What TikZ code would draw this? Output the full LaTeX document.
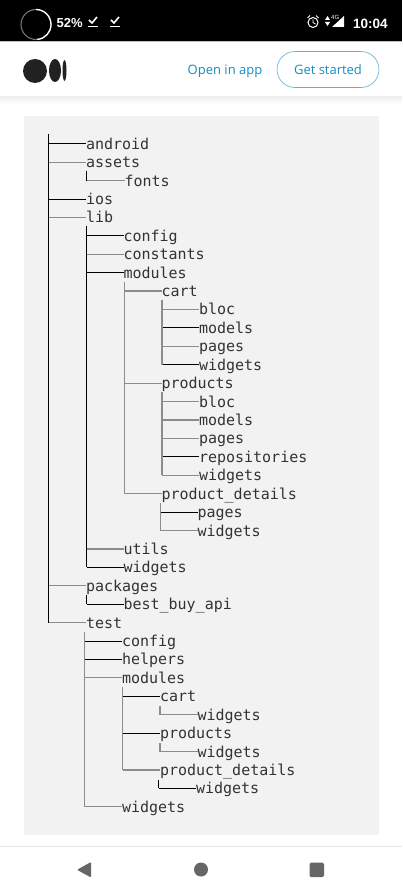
\documentclass[tikz,border=0pt]{standalone}
\usepackage{fontspec}
\setmainfont{Open Sans}
\newfontfamily\codefont{DejaVu Sans Mono}
\newfontfamily\barfont{Liberation Sans}
\definecolor{panel}{HTML}{F2F2F2}
\definecolor{linkblue}{HTML}{1A8BC0}
\definecolor{navgray}{HTML}{666666}
\tikzset{
 rowlabel/.style={anchor=west,inner sep=0pt,outer sep=0pt,text height=14pt,text depth=3pt,font=\codefont\fontsize{15}{15}\selectfont,text=black!80},
 darkline/.style={draw=black,line width=0.9pt},
 greyline/.style={draw=black!45,line width=1.2pt},
}
\newcommand\branch[3]{\draw[#1] (#2 |- #3.west) -- (#3.west);}
\begin{document}
\begin{tikzpicture}[x=1pt,y=-1pt]
\useasboundingbox (0,0) rectangle (402,893);
\fill[white] (0,0) rectangle (402,893);
% status bar
\fill[black] (0,0) rectangle (402,41.5);
\fill[black!25] (0,41.5) rectangle (402,42.5);
\draw[black!55,line width=1.1pt] (36,24.5) circle (15);
\draw[white,line width=1.3pt] (36,9.5) arc[start angle=-90,end angle=85,radius=15];
\node[anchor=west,inner sep=0,text=white,font=\barfont\bfseries\fontsize{13}{13}\selectfont] (pct) at (56.5,23.5) {52\%};
\draw[white,line width=1.3pt] (88,26.5) -- (98,26.5) (110,26.5) -- (120,26.5);
\draw[white,line width=1.6pt] (89,20) -- (92,23) -- (97,17) (111,20) -- (114,23) -- (119,17);
\draw[white,line width=1pt] (313,22.5) circle (5);
\draw[white,line width=0.8pt] (313,19.5) -- (313,22.5) -- (315.5,24);
\draw[white,line width=1pt] (307.5,18) -- (310,15.5) (318.5,18) -- (316,15.5);
\fill[white] (325,20) -- (327.5,16) -- (330,20) -- cycle (325,22) -- (327.5,26) -- (330,22) -- cycle;
\fill[white] (344,16) -- (344,27) -- (332,27) -- cycle;
\node[anchor=west,inner sep=0,text=white,font=\barfont\fontsize{6}{6}\selectfont] (lte) at (331,17.5) {4G};
\node[anchor=west,inner sep=0,text=white,font=\barfont\bfseries\fontsize{13.5}{13.5}\selectfont] (clock) at (353,23.5) {10:04};
% header
\shade[top color=black!6,bottom color=white] (0,97) rectangle (402,104);
\fill[black!87] (35,71) ellipse[x radius=12,y radius=12];
\fill[black!87] (55,70.5) ellipse[x radius=6,y radius=11.5];
\fill[black!87] (64.5,70.5) ellipse[x radius=2,y radius=10.5];
\node[anchor=center,inner sep=0,text=linkblue,font=\fontsize{13}{13}\selectfont] (open) at (225,71.5) {Open in app};
\node[draw=linkblue!70,rounded corners=18pt,minimum width=102pt,minimum height=36pt,inner sep=0,line width=0.6pt,text=linkblue,font=\fontsize{13}{13}\selectfont] (start) at (328,69.5) {Get started};
% panel
\fill[panel] (24,116) rectangle (379,835);
% footer
\fill[black!10] (0,846) rectangle (402,847);
\fill[navgray,rounded corners=1pt] (91,862) -- (91,877.5) -- (77,869.8) -- cycle;
\fill[navgray] (201,869.5) circle (7);
\fill[navgray,rounded corners=1.5pt] (309.5,862.5) rectangle (324,877);
% tree rows
\node[rowlabel] (android) at (86,{143.7+18.42*0}) {android};
\node[rowlabel] (assets) at (86,{143.7+18.42*1}) {assets};
\node[rowlabel] (fonts) at (124.5,{143.7+18.42*2}) {fonts};
\node[rowlabel] (ios) at (86,{143.7+18.42*3}) {ios};
\node[rowlabel] (lib) at (86,{143.7+18.42*4}) {lib};
\node[rowlabel] (config) at (123.5,{143.7+18.42*5}) {config};
\node[rowlabel] (constants) at (123.5,{143.7+18.42*6}) {constants};
\node[rowlabel] (modules) at (123.5,{143.7+18.42*7}) {modules};
\node[rowlabel] (cart) at (161.5,{143.7+18.42*8}) {cart};
\node[rowlabel] (cbloc) at (199,{143.7+18.42*9}) {bloc};
\node[rowlabel] (cmodels) at (199,{143.7+18.42*10}) {models};
\node[rowlabel] (cpages) at (199,{143.7+18.42*11}) {pages};
\node[rowlabel] (cwidgets) at (199,{143.7+18.42*12}) {widgets};
\node[rowlabel] (products) at (161.5,{143.7+18.42*13}) {products};
\node[rowlabel] (pbloc) at (199,{143.7+18.42*14}) {bloc};
\node[rowlabel] (pmodels) at (199,{143.7+18.42*15}) {models};
\node[rowlabel] (ppages) at (199,{143.7+18.42*16}) {pages};
\node[rowlabel] (prepos) at (199,{143.7+18.42*17}) {repositories};
\node[rowlabel] (pwidgets) at (199,{143.7+18.42*18}) {widgets};
\node[rowlabel] (details) at (161.5,{143.7+18.42*19}) {product\_details};
\node[rowlabel] (dpages) at (197.5,{143.7+18.42*20}) {pages};
\node[rowlabel] (dwidgets) at (197.5,{143.7+18.42*21}) {widgets};
\node[rowlabel] (utils) at (123.5,{143.7+18.42*22}) {utils};
\node[rowlabel] (widgets) at (123.5,{143.7+18.42*23}) {widgets};
\node[rowlabel] (packages) at (86,{143.7+18.42*24}) {packages};
\node[rowlabel] (bestbuy) at (123.5,{143.7+18.42*25}) {best\_buy\_api};
\node[rowlabel] (test) at (86,{143.7+18.42*26}) {test};
\node[rowlabel] (tconfig) at (122,{143.7+18.42*27}) {config};
\node[rowlabel] (thelpers) at (122,{143.7+18.42*28}) {helpers};
\node[rowlabel] (tmodules) at (122,{143.7+18.42*29}) {modules};
\node[rowlabel] (tcart) at (160,{143.7+18.42*30}) {cart};
\node[rowlabel] (tcwidgets) at (197.5,{143.7+18.42*31}) {widgets};
\node[rowlabel] (tproducts) at (160,{143.7+18.42*32}) {products};
\node[rowlabel] (tpwidgets) at (197.5,{143.7+18.42*33}) {widgets};
\node[rowlabel] (tdetails) at (160,{143.7+18.42*34}) {product\_details};
\node[rowlabel] (tdwidgets) at (196,{143.7+18.42*35}) {widgets};
\node[rowlabel] (twidgets) at (122,{143.7+18.42*36}) {widgets};
% trunks
\coordinate (rootT) at (48.5,134);
\coordinate (assetsT) at (86.5,171);
\coordinate (libT) at (86.5,226);
\coordinate (modT) at (124.5,282);
\coordinate (cartT) at (162,300);
\coordinate (prodT) at (162,392);
\coordinate (detT) at (160.5,503);
\coordinate (pkgT) at (86.5,595);
\coordinate (testT) at (84.5,632);
\coordinate (tmodT) at (122.5,687);
\coordinate (tcartT) at (160,706);
\coordinate (tprodT) at (160,743);
\coordinate (tdetT) at (158.5,780);
\draw[darkline] (rootT) -- (rootT |- test.west);
\draw[darkline] (assetsT) -- (assetsT |- fonts.west);
\draw[darkline] (libT) -- (libT |- widgets.west);
\draw[greyline] (modT) -- (modT |- details.west);
% branches
\branch{darkline}{rootT}{android}
\branch{greyline}{rootT}{assets}
\branch{greyline}{assetsT}{fonts}
\branch{darkline}{rootT}{ios}
\branch{greyline}{rootT}{lib}
\branch{darkline}{libT}{config}
\branch{greyline}{libT}{constants}
\branch{darkline}{libT}{modules}
\branch{greyline}{modT}{cart}
\branch{greyline}{cartT}{cbloc}
\branch{darkline}{cartT}{cmodels}
\branch{greyline}{cartT}{cpages}
\branch{darkline}{cartT}{cwidgets}
\branch{greyline}{modT}{products}
\branch{greyline}{prodT}{pbloc}
\branch{greyline}{prodT}{pmodels}
\branch{greyline}{prodT}{ppages}
\branch{darkline}{prodT}{prepos}
\branch{greyline}{prodT}{pwidgets}
\branch{greyline}{modT}{details}
\branch{darkline}{detT}{dpages}
\branch{greyline}{detT}{dwidgets}
\branch{greyline}{libT}{utils}
\branch{darkline}{libT}{widgets}
\branch{greyline}{rootT}{packages}
\branch{darkline}{pkgT}{bestbuy}
\branch{greyline}{rootT}{test}
\branch{darkline}{testT}{tconfig}
\branch{darkline}{testT}{thelpers}
\branch{greyline}{testT}{tmodules}
\branch{darkline}{tmodT}{tcart}
\branch{greyline}{tcartT}{tcwidgets}
\branch{darkline}{tmodT}{tproducts}
\branch{greyline}{tprodT}{tpwidgets}
\branch{greyline}{tmodT}{tdetails}
\branch{darkline}{tdetT}{tdwidgets}
\branch{greyline}{testT}{twidgets}
% grey trunks drawn over the branches so their colour stays even
\draw[greyline] (cartT) -- (cartT |- cwidgets.west);
\draw[greyline] (prodT) -- (prodT |- pwidgets.west);
\draw[greyline] (detT) -- (detT |- dwidgets.west);
\draw[darkline] (pkgT) -- (pkgT |- bestbuy.west);
\draw[greyline] (testT) -- (testT |- twidgets.west);
\draw[greyline] (tmodT) -- (tmodT |- tdetails.west);
\draw[greyline] (tcartT) -- (tcartT |- tcwidgets.west);
\draw[greyline] (tprodT) -- (tprodT |- tpwidgets.west);
\draw[darkline] (tdetT) -- (tdetT |- tdwidgets.west);
\end{tikzpicture}
\end{document}
